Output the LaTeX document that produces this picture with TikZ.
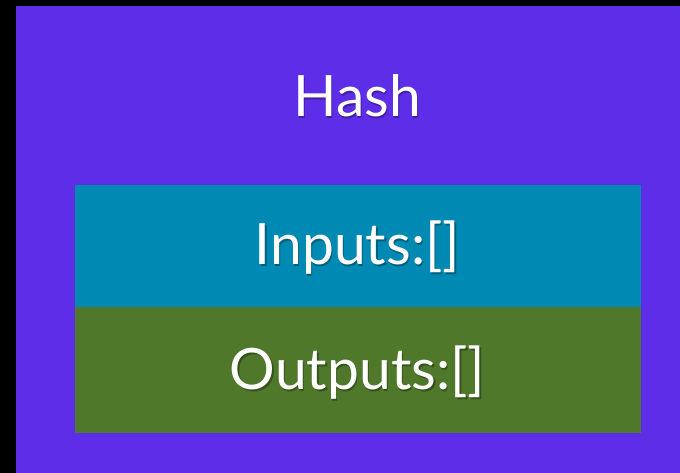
\documentclass[tikz,border=0pt]{standalone}
\usepackage{fontspec}
\setmainfont{Lato}
\definecolor{bgpurple}{RGB}{94,45,232}
\definecolor{teal}{RGB}{0,137,178}
\definecolor{grn}{RGB}{79,120,42}
\begin{document}
\begin{tikzpicture}[x=1pt,y=1pt,
  lbl/.style={text=white,font=\fontsize{57}{60}\selectfont,anchor=base,inner sep=0pt},
  shd/.style={text=black,opacity=0.3,font=\fontsize{57}{60}\selectfont,anchor=base,inner sep=0pt}]
\useasboundingbox (0,0) rectangle (680,473);
\fill[black] (0,0) rectangle (680,473);
\fill[bgpurple] (16,0) rectangle (680,467);
\fill[teal] (75,166) rectangle (641,288);
\fill[grn] (75,40) rectangle (641,166);
\node[shd] at (358.5,354.5) {Hash};
\node[lbl] (hash) at (357,356) {Hash};
\node[shd] at (359,206.5) {Inputs:[]};
\node[lbl] (inputs) at (357.5,208) {Inputs:[]};
\node[shd] at (359,81.5) {Outputs:[]};
\node[lbl] (outputs) at (357.5,83) {Outputs:[]};
\end{tikzpicture}
\end{document}
